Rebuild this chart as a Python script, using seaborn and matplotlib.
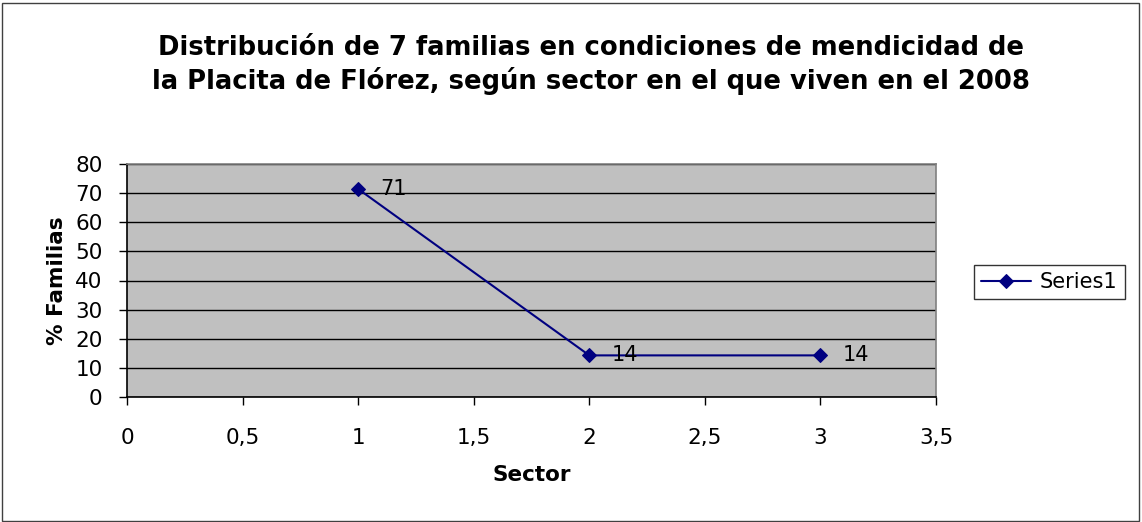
import matplotlib
matplotlib.use("Agg")
import matplotlib.pyplot as plt
import seaborn as sns
import pandas as pd
from matplotlib.patches import Rectangle

# data
sector = [1, 2, 3]
familias = [71.43, 14.29, 14.29]
etiquetas = ["71", "14", "14"]
x_ticks = [0, 0.5, 1, 1.5, 2, 2.5, 3, 3.5]
x_tick_labels = ["0", "0,5", "1", "1,5", "2", "2,5", "3", "3,5"]
y_ticks = [0, 10, 20, 30, 40, 50, 60, 70, 80]

df = pd.DataFrame({"Sector": sector, "Familias": familias})

sns.set_style("white", {"text.color": "black", "axes.labelcolor": "black",
                        "xtick.color": "black", "ytick.color": "black"})
plt.rcParams['font.family'] = ['DejaVu Sans']

fig = plt.figure(figsize=(11.42, 5.22), dpi=100)
ax = fig.add_axes([127/1142, 1 - 397/522, (936-127)/1142, (397-164)/522])

ax.set_facecolor("#C0C0C0")
sns.lineplot(data=df, x="Sector", y="Familias", ax=ax, color="#000080",
             marker="D", markersize=7, markeredgecolor="#000080",
             linewidth=1.5, label="Series1")

for xv, yv, t in zip(sector, familias, etiquetas):
    ax.annotate(t, (xv, yv), xytext=(16, 0), textcoords="offset points",
                va="center", ha="left", fontsize=15, color="black")

ax.set_xlim(0, 3.5)
ax.set_ylim(0, 80)
ax.set_xticks(x_ticks)
ax.set_xticklabels(x_tick_labels)
ax.set_yticks(y_ticks)
ax.yaxis.grid(True, color="black", linewidth=1)
ax.xaxis.grid(False)
ax.set_axisbelow(True)
ax.tick_params(axis="both", labelsize=15.5, direction="out", length=5.5,
               width=1, color="black", labelcolor="black",
               bottom=True, left=True)
ax.tick_params(axis="x", pad=17)
ax.tick_params(axis="y", pad=12)
for s in ["top", "right"]:
    ax.spines[s].set_color("#808080")
    ax.spines[s].set_linewidth(1.2)
for s in ["left", "bottom"]:
    ax.spines[s].set_color("black")
    ax.spines[s].set_linewidth(1.2)

ax.set_xlabel("Sector", fontsize=15.5, fontweight="bold", labelpad=12,
              color="black")
ax.set_ylabel("% Familias", fontsize=15.5, fontweight="bold", labelpad=6,
              color="black")

fig.text(591/1142, 1 - 65/522,
         "Distribución de 7 familias en condiciones de mendicidad de\n"
         "la Placita de Flórez, según sector en el que viven en el 2008",
         ha="center", va="center", fontsize=18.6, fontweight="bold",
         linespacing=1.3, color="black")

leg = ax.legend(loc="center left", bbox_to_anchor=(974/1142, 1 - 282/522),
                bbox_transform=fig.transFigure, frameon=True, fancybox=False,
                fontsize=15, handlelength=2.4, handletextpad=0.4,
                borderpad=0.35, borderaxespad=0, edgecolor="black")
leg.get_frame().set_linewidth(1)
for txt in leg.get_texts():
    txt.set_color("black")

fig.patches.append(Rectangle((1.5/1142, 1.5/522), 1137/1142, 518/522,
                             transform=fig.transFigure, fill=False,
                             edgecolor="#404040", linewidth=1))

fig.savefig("out.png", dpi=100)
